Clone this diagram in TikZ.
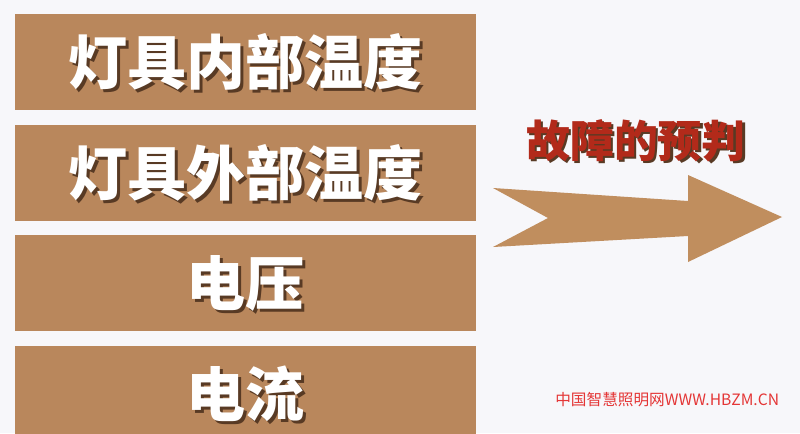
\documentclass[tikz,border=0pt]{standalone}
\usepackage{fontspec}
\newfontfamily\cjk{Noto Sans CJK SC}
\usetikzlibrary{positioning}

\definecolor{boxbrown}{RGB}{185,135,92}
\definecolor{arrowbrown}{RGB}{192,142,94}
\definecolor{labelred}{RGB}{178,42,26}
\definecolor{markred}{RGB}{228,54,54}
\definecolor{paper}{RGB}{247,247,250}
\definecolor{shade}{RGB}{88,58,36}

\tikzset{
  factor/.style={fill=boxbrown, minimum width=9.22cm, minimum height=1.92cm,
    inner sep=0pt},
  factortext/.style={text=white, inner sep=0pt,
    font=\cjk\bfseries\fontsize{33.6}{36}\selectfont},
  textshade/.style={factortext, text=shade},
  predict/.style={text=labelred, inner sep=0pt,
    font=\cjk\bfseries\fontsize{25}{28}\selectfont},
  watermark/.style={text=markred, inner sep=0pt,
    font=\cjk\fontsize{8.9}{10}\selectfont}
}

\begin{document}
\begin{tikzpicture}[x=0.02cm, y=-0.02cm, node distance=0.28cm]
  % Background
  \fill[paper] (0,0) rectangle (800,433);
  \clip (0,0) rectangle (800,433);

  % Measured quantities
  \node[factor] (inner) at (245.5,62) {};
  \node[factor, below=of inner] (outer) {};
  \node[factor, below=of outer] (volt) {};
  \node[factor, below=of volt] (amp) {};

  \node[textshade] at ([shift={(1.6pt,-1.6pt)}]inner.center) {灯具内部温度};
  \node[factortext] (innertext) at (inner.center) {灯具内部温度};
  \node[textshade] at ([shift={(1.6pt,-1.6pt)}]outer.center) {灯具外部温度};
  \node[factortext] (outertext) at (outer.center) {灯具外部温度};
  \node[textshade] at ([shift={(1.6pt,-1.6pt)}]volt.center) {电压};
  \node[factortext] (volttext) at (volt.center) {电压};
  \node[textshade] at ([shift={(1.6pt,-1.6pt)}]amp.center) {电流};
  \node[factortext] (amptext) at (amp.center) {电流};

  % Big arrow
  \fill[arrowbrown]
        (493,188) -- (688,201) -- (688,175) -- (782,217) --
        (688,262) -- (688,236) -- (493,247) -- (548,218) -- cycle;

  % Arrow label
  \node[predict, text=shade] at ([shift={(1.2pt,-1.2pt)}]636,141) {故障的预判};
  \node[predict] (forecast) at (636,141) {故障的预判};

  % Site mark
  \node[watermark, anchor=west] (site) at (555,400) {中国智慧照明网WWW.HBZM.CN};
\end{tikzpicture}
\end{document}
